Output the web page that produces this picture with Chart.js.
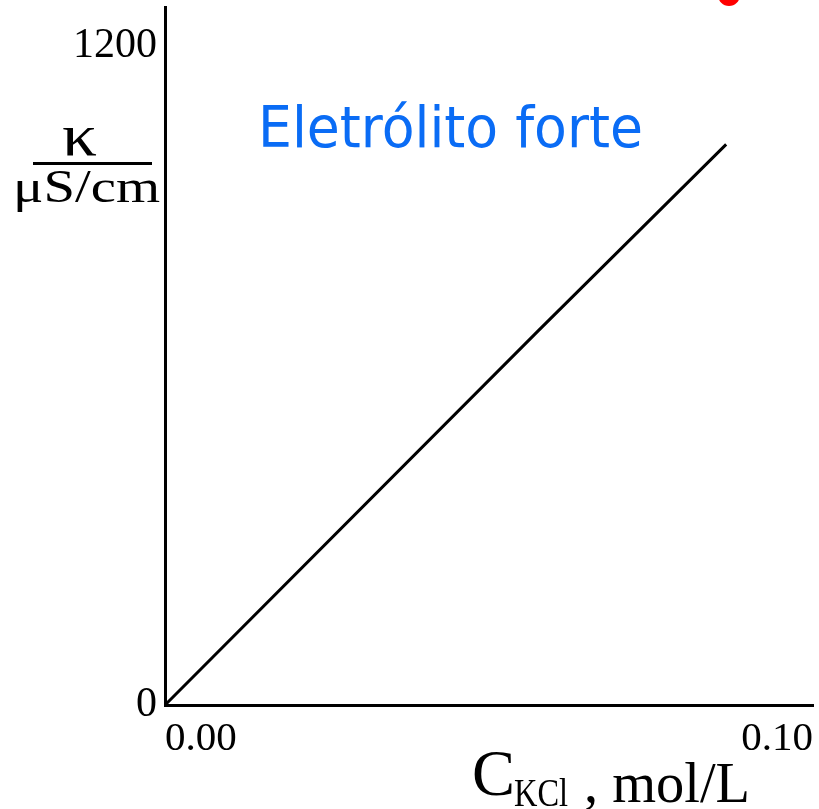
<!DOCTYPE html>
<html>
<head>
<meta charset="utf-8">
<script src="https://cdn.jsdelivr.net/npm/chart.js@4/dist/chart.umd.min.js"></script>
<style>
  html, body { margin: 0; padding: 0; background: #fff; }
  #wrap { width: 819px; height: 809px; position: relative; }
</style>
</head>
<body>
<div id="wrap"><canvas id="chart"></canvas></div>
<script>
// KCl concentration (mol/L) and conductivity (uS/cm)
const concentration = [0, 0.0577, 0.0866];
const conductivity = [0, 682, 1020];

const xTicks = [0, 0.10];
const xTickLabels = ['0.00', '0.10'];
const yTicks = [0, 1200];
const yTickLabels = ['0', '1200'];

const yTitleTop = 'κ';
const yTitleBottom = 'μS/cm';
const xTitleMain = 'C';
const xTitleSub = 'KCl';
const xTitleUnit = ', mol/L';
const noteText = 'Eletrólito forte';

const serif = '"Liberation Serif", "Times New Roman", serif';

// draw text squeezed/stretched to a given width
function fitText(ctx, text, font, x, y, w, color) {
    ctx.save();
    ctx.font = font;
    ctx.fillStyle = color || '#000';
    ctx.textAlign = 'left';
    ctx.textBaseline = 'alphabetic';
    const m = ctx.measureText(text).width;
    ctx.translate(x, y);
    ctx.scale(w / m, 1);
    ctx.fillText(text, 0, 0);
    ctx.restore();
}

const labelsPlugin = {
    id: 'labels',
    afterDraw(chart) {
        const ctx = chart.ctx;
        // y axis title as a fraction
        fitText(ctx, yTitleTop, '60px ' + serif, 62, 155, 35);
        ctx.fillStyle = '#000';
        ctx.fillRect(33, 162, 119, 3);
        fitText(ctx, yTitleBottom, '46px ' + serif, 13, 202, 147);

        // x axis title
        fitText(ctx, xTitleMain, '65px ' + serif, 472, 795, 43);
        fitText(ctx, xTitleSub, '40px ' + serif, 514, 806, 54);
        fitText(ctx, xTitleUnit, '56px ' + serif, 584, 802, 166);

        // blue note
        fitText(ctx, noteText, '57px "DejaVu Sans", sans-serif', 258, 147, 385, '#0a6cf5');

        // red mark cut off at the top edge
        ctx.save();
        ctx.fillStyle = '#ff0000';
        ctx.beginPath();
        ctx.arc(729, -5, 11, 0, Math.PI * 2);
        ctx.fill();
        ctx.restore();
    }
};

new Chart(document.getElementById('chart'), {
    type: 'scatter',
    data: {
        datasets: [{
            data: concentration.map((c, i) => ({ x: c, y: conductivity[i] })),
            showLine: true,
            borderColor: '#000',
            borderWidth: 3,
            pointRadius: 0,
            tension: 0
        }]
    },
    options: {
        responsive: true,
        maintainAspectRatio: false,
        animation: false,
        layout: { padding: { top: 7, right: 6, left: 0, bottom: 0 } },
        plugins: {
            legend: { display: false },
            tooltip: { enabled: false }
        },
        scales: {
            x: {
                type: 'linear',
                min: 0,
                max: 0.10,
                afterBuildTicks: (scale) => { scale.ticks = xTicks.map(v => ({ value: v })); },
                afterFit: (scale) => {
                    scale.height = 104;
                    scale.paddingLeft = 0;
                    scale.paddingRight = 0;
                },
                grid: { drawOnChartArea: false, drawTicks: false },
                border: { display: true, color: '#000', width: 3 },
                ticks: {
                    align: 'inner',
                    padding: 10,
                    color: '#000',
                    font: { family: serif, size: 41 },
                    callback: (v, i) => xTickLabels[i]
                }
            },
            y: {
                type: 'linear',
                min: 0,
                max: 1270,
                afterBuildTicks: (scale) => { scale.ticks = yTicks.map(v => ({ value: v })); },
                afterFit: (scale) => {
                    scale.width = 165;
                    scale.paddingTop = 0;
                    scale.paddingBottom = 0;
                },
                grid: { drawOnChartArea: false, drawTicks: false },
                border: { display: true, color: '#000', width: 3 },
                ticks: {
                    padding: 8,
                    color: '#000',
                    font: { family: serif, size: 42 },
                    callback: (v, i) => yTickLabels[i]
                }
            }
        }
    },
    plugins: [labelsPlugin]
});
</script>
</body>
</html>
